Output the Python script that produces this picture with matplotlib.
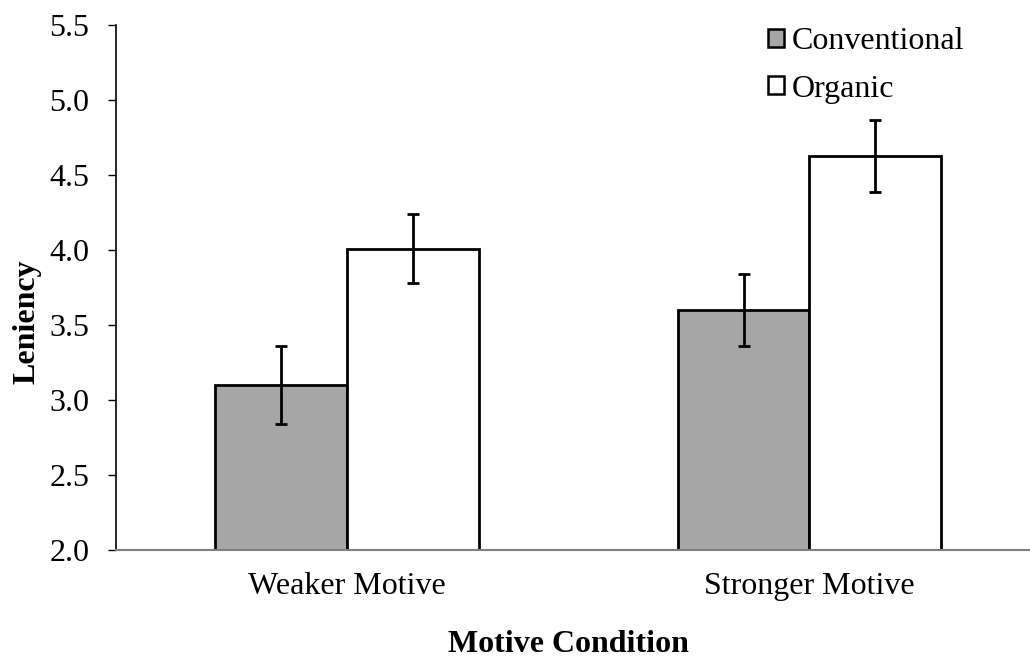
import matplotlib
matplotlib.use("Agg")
import matplotlib.pyplot as plt
import numpy as np
from matplotlib.patches import Patch

categories = ["Weaker Motive", "Stronger Motive"]
series = ["Conventional", "Organic"]
conventional = [3.10, 3.60]
organic = [4.01, 4.63]
conv_err = [0.26, 0.24]
org_err = [0.23, 0.24]
yticks = [2.0, 2.5, 3.0, 3.5, 4.0, 4.5, 5.0, 5.5]

plt.rcParams['font.family'] = ['Liberation Serif', 'DejaVu Serif']

W, H = 1030, 659
fig = plt.figure(figsize=(W / 100, H / 100), dpi=100)
ax = fig.add_axes([116 / W, (H - 550) / H, (1029 - 116) / W, (550 - 25) / H])

x = np.arange(len(categories))
bw = 0.285
err_kw = dict(ecolor='black', elinewidth=2.0, capsize=4, capthick=2.0)
ax.bar(x - bw / 2, conventional, bw, color='#A6A6A6', edgecolor='black',
       linewidth=2.0, yerr=conv_err, error_kw=err_kw, label=series[0], zorder=2)
ax.bar(x + bw / 2, organic, bw, color='white', edgecolor='black',
       linewidth=2.0, yerr=org_err, error_kw=err_kw, label=series[1], zorder=2)

ax.set_ylim(2.0, 5.5)
ax.set_xlim(-0.5, 1.475)
ax.set_yticks(yticks)
ax.set_yticklabels([f"{v:.1f}" for v in yticks])
ax.set_xticks(x)
ax.set_xticklabels(categories)
ax.tick_params(axis='y', direction='out', length=6, width=1, pad=13, labelsize=23)
ax.tick_params(axis='x', length=0, pad=16, labelsize=23)

for s in ['top', 'right']:
    ax.spines[s].set_visible(False)
ax.spines['left'].set_linewidth(1.2)
ax.spines['bottom'].set_color('#808080')
ax.spines['bottom'].set_linewidth(1.5)

handles = [Patch(facecolor='#A6A6A6', edgecolor='black', linewidth=1.8),
           Patch(facecolor='white', edgecolor='black', linewidth=1.8)]
fig.legend(handles, series, loc='upper left', bbox_to_anchor=(768 / W, 1 - 27 / H),
           frameon=False, fontsize=23, handlelength=0.5, handleheight=0.5,
           handletextpad=0.25, labelspacing=0.58, borderpad=0, borderaxespad=0)

fig.text(568 / W, 1 - 645 / H, "Motive Condition", ha='center', va='center',
         fontsize=23, fontweight='bold')
fig.text(27 / W, 1 - 322 / H, "Leniency", ha='center', va='center',
         rotation=90, fontsize=23, fontweight='bold')

fig.savefig("out.png", dpi=100)
